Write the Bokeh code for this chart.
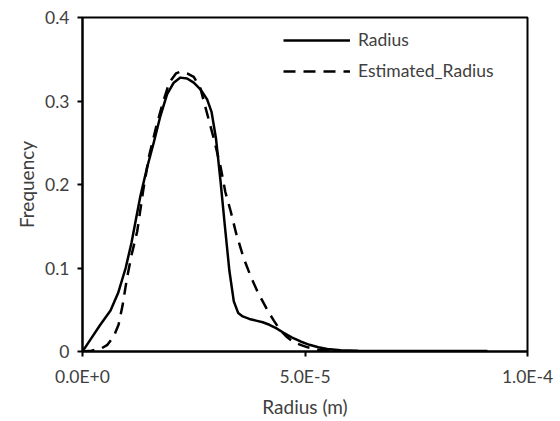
from bokeh.plotting import figure
from bokeh.models import Range1d, FixedTicker, Legend, LegendItem
from bokeh.embed import file_html
from bokeh.resources import INLINE

radius_x = [0.0, 0.2e-5, 0.4e-5, 0.63e-5, 0.8e-5, 0.97e-5, 1.1e-5, 1.2e-5, 1.3e-5, 1.45e-5,
            1.6e-5, 1.75e-5, 1.9e-5, 2.05e-5, 2.2e-5, 2.35e-5, 2.5e-5, 2.65e-5, 2.8e-5, 2.9e-5,
            3.0e-5, 3.1e-5, 3.2e-5, 3.3e-5, 3.4e-5, 3.5e-5, 3.6e-5, 3.75e-5, 3.9e-5, 4.05e-5,
            4.2e-5, 4.35e-5, 4.5e-5, 4.7e-5, 4.9e-5, 5.1e-5, 5.3e-5, 5.5e-5, 5.8e-5, 6.2e-5,
            7.5e-5, 9.1e-5]
radius_y = [0.0, 0.016, 0.032, 0.049, 0.07, 0.1, 0.13, 0.158, 0.186, 0.22,
            0.25, 0.282, 0.308, 0.322, 0.328, 0.327, 0.322, 0.314, 0.302, 0.287,
            0.255, 0.205, 0.15, 0.097, 0.06, 0.046, 0.042, 0.039, 0.037, 0.035,
            0.032, 0.028, 0.023, 0.017, 0.012, 0.008, 0.005, 0.003, 0.0015, 0.0008,
            0.0005, 0.0005]

est_x = [0.0, 0.2e-5, 0.4e-5, 0.56e-5, 0.7e-5, 0.81e-5, 0.9e-5, 1.0e-5, 1.1e-5, 1.23e-5,
         1.37e-5, 1.5e-5, 1.65e-5, 1.8e-5, 1.95e-5, 2.1e-5, 2.2e-5, 2.35e-5, 2.5e-5, 2.65e-5,
         2.8e-5, 2.95e-5, 3.1e-5, 3.21e-5, 3.33e-5, 3.45e-5, 3.62e-5, 3.78e-5, 3.93e-5, 4.05e-5,
         4.16e-5, 4.3e-5, 4.45e-5, 4.6e-5, 4.75e-5, 4.9e-5, 5.06e-5, 5.3e-5, 5.6e-5, 6.0e-5]
est_y = [0.0, 0.001, 0.003, 0.008, 0.018, 0.032, 0.055, 0.088, 0.115, 0.144,
         0.195, 0.235, 0.268, 0.297, 0.322, 0.333, 0.335, 0.333, 0.329, 0.315,
         0.285, 0.255, 0.222, 0.191, 0.168, 0.142, 0.112, 0.09, 0.072, 0.06,
         0.049, 0.037, 0.025, 0.017, 0.011, 0.008, 0.005, 0.002, 0.001, 0.0]

x_ticks = [0.0, 5e-5, 1e-4]
x_tick_labels = ["0.0E+0", "5.0E-5", "1.0E-4"]
y_ticks = [0.0, 0.1, 0.2, 0.3, 0.4]
y_tick_labels = ["0", "0.1", "0.2", "0.3", "0.4"]

FONT = "Lato"
TXT = "#404040"

p = figure(width=558, height=420, output_backend="svg", toolbar_location=None,
           x_range=Range1d(0, 1e-4), y_range=Range1d(0, 0.4),
           min_border_left=82, min_border_right=31, min_border_top=17, min_border_bottom=66)
p.xgrid.visible = False
p.ygrid.visible = False
p.outline_line_color = "black"
p.outline_line_width = 2
p.background_fill_color = "white"
p.border_fill_color = "white"

r1 = p.line(radius_x, radius_y, line_color="black", line_width=2.5, line_join="round")
r2 = p.line(est_x, est_y, line_color="black", line_width=2.5, line_dash="12 8", line_join="round")

for ax, ticks, labels in ((p.xaxis[0], x_ticks, x_tick_labels), (p.yaxis[0], y_ticks, y_tick_labels)):
    ax.ticker = FixedTicker(ticks=ticks)
    ax.major_label_overrides = {t: l for t, l in zip(ticks, labels)}
    ax.minor_tick_line_color = None
    ax.major_tick_in = 0
    ax.major_tick_out = 5
    ax.major_tick_line_width = 2
    ax.axis_line_width = 2
    ax.axis_line_color = "black"
    ax.major_label_text_font = FONT
    ax.major_label_text_font_size = "17.5px"
    ax.major_label_text_color = TXT
    ax.axis_label_text_font = FONT
    ax.axis_label_text_font_size = "19px"
    ax.axis_label_text_font_style = "normal"
    ax.axis_label_text_color = TXT

p.xaxis.axis_label = "Radius (m)"
p.yaxis.axis_label = "Frequency"
p.xaxis.major_label_standoff = 9
p.yaxis.major_label_standoff = 8
p.xaxis.axis_label_standoff = 5
p.yaxis.axis_label_standoff = 4

legend = Legend(items=[LegendItem(label="Radius", renderers=[r1]),
                       LegendItem(label="Estimated_Radius", renderers=[r2])],
                location=(201, 270))
legend.background_fill_alpha = 0
legend.border_line_color = None
legend.glyph_width = 67
legend.glyph_height = 20
legend.label_height = 20
legend.spacing = 10
legend.padding = 0
legend.margin = 0
legend.label_standoff = 8
legend.label_text_font = FONT
legend.label_text_font_size = "17.5px"
legend.label_text_color = TXT
p.add_layout(legend, "center")

open("out.html", "w").write(file_html(p, INLINE))
